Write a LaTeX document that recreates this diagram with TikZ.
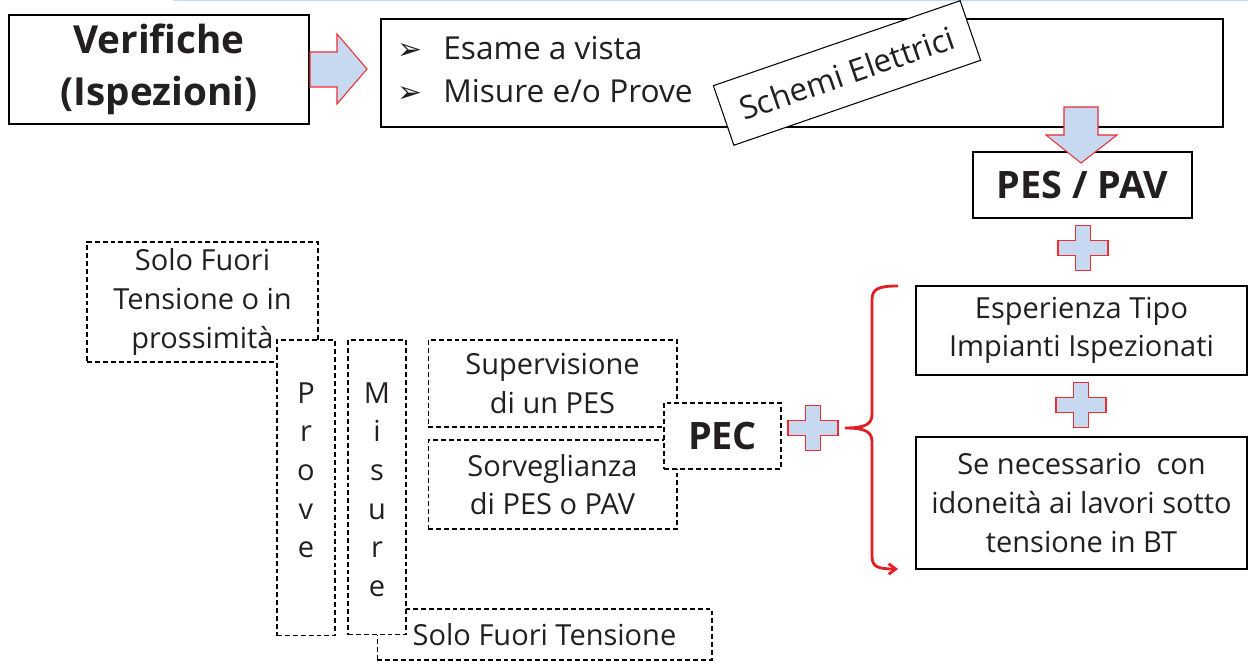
\documentclass[tikz,border=0pt]{standalone}
\usepackage{fontspec}
\setmainfont{Open Sans}
\newfontfamily\symfont{DejaVu Sans}
\usepackage{tikz}
\usetikzlibrary{arrows.meta, positioning}
\definecolor{FillBlue}{RGB}{198,217,240}
\definecolor{EdgeRed}{RGB}{236,45,52}
\definecolor{BraceRed}{RGB}{228,30,38}
\definecolor{TopLine}{RGB}{197,217,241}
\definecolor{TextGray}{RGB}{35,31,32}

\begin{document}
\begin{tikzpicture}[x=0.02cm,y=-0.02cm,
        txt/.style={font=\fontsize{16.5}{22}\selectfont,text=TextGray,align=center},
        toptxt/.style={txt,font=\fontsize{18}{22}\selectfont},
        box/.style={draw,line width=0.8pt,fill=white,txt},
        dbox/.style={draw,line width=0.6pt,dash pattern=on 2.8pt off 1.7pt,fill=white,txt},
        big/.style={font=\fontsize{22}{30}\selectfont\bfseries},
        bold/.style={font=\fontsize{21.5}{24}\selectfont\bfseries},
        blockarr/.style={draw=EdgeRed,fill=FillBlue,line width=0.6pt},
        plussign/.pic={\draw[blockarr] (-7.5,-22.5) -- (7.5,-22.5) -- (7.5,-7.5) -- (25,-7.5)
            -- (25,7.5) -- (7.5,7.5) -- (7.5,22.5) -- (-7.5,22.5) -- (-7.5,7.5) -- (-25,7.5)
            -- (-25,-7.5) -- (-7.5,-7.5) -- cycle;}]
  \useasboundingbox (0,0) rectangle (1248,661);
  \draw[TopLine,line width=1pt] (173,0.5) -- (1248,0.5);

  % top row
  \node[box,big,minimum width=6cm,minimum height=2.18cm] (verif) at (159,69.5) {Verifiche\\(Ispezioni)};
  \node[box,minimum width=16.84cm,minimum height=2.16cm] (lista) at (802,73) {};
  \node[toptxt,anchor=west,inner sep=0pt] (esame) at (397,48) {\makebox[0.92cm][l]{\symfont\fontsize{17}{17}\selectfont ➢}Esame a vista};
  \node[toptxt,anchor=west,inner sep=0pt] (misprove) at (397,91) {\makebox[0.92cm][l]{\symfont\fontsize{17}{17}\selectfont ➢}Misure e/o Prove};
  \node[box,toptxt,rotate=19,line width=0.6pt,inner sep=0pt,minimum width=5.22cm,minimum height=1.26cm] (schemi) at (847,73) {Schemi Elettrici};
  \draw[blockarr] (310,52) -- (337,52) -- (337,34) -- (367,69) -- (337,104) -- (337,87) -- (310,87) -- cycle;

  \node[box,bold,minimum width=4.38cm,minimum height=1.32cm] (pespav) at (1082.5,185) {PES / PAV};
  \draw[blockarr] (1064,107) -- (1098,107) -- (1098,135) -- (1117,135) -- (1081,163) -- (1046,135) -- (1064,135) -- cycle;
  \pic at (1083,248) {plussign};

  % right column
  \node[box,minimum width=6.62cm,minimum height=1.78cm] (esper) at (1081.5,330.5) {Esperienza Tipo\\Impianti Ispezionati};
  \pic at (1081,405) {plussign};
  \node[box,minimum width=6.62cm,minimum height=2.64cm] (senec) at (1081.5,503) {Se necessario\ \ con\\idoneità ai lavori sotto\\tensione in BT};
  \draw[BraceRed,line width=1.6pt,-{Straight Barb[length=4pt,width=6pt]}]
    (898,286) .. controls (878,286) and (872,289) .. (872,300) -- (872,414)
    .. controls (872,424) and (866,428) .. (845,428)
    .. controls (866,428) and (872,432) .. (872,442) -- (872,556)
    .. controls (872,567) and (878,569) .. (898,569);

  % left part
  \node[dbox,minimum width=4.62cm,minimum height=2.4cm] (soloprox) at (202.5,302) {Solo Fuori\\Tensione o in\\prossimità};
  \node[dbox,minimum width=1.16cm,minimum height=5.92cm] (prove) at (306,488) {};
  \node[txt,anchor=north,inner sep=0pt] (provetxt) at (306,382) {P\\r\\o\\v\\e};
  \node[dbox,minimum width=6.7cm,minimum height=1.02cm] (solofuori) at (544.5,634.5) {Solo Fuori Tensione};
  \node[dbox,minimum width=1.16cm,minimum height=5.9cm] (misure) at (377,487.5) {};
  \node[txt,anchor=north,inner sep=0pt] (misuretxt) at (377,382) {M\\i\\s\\u\\r\\e};
  \node[dbox,minimum width=4.98cm,minimum height=1.74cm] (superv) at (552.5,383.5) {Supervisione\\di un PES};
  \node[dbox,minimum width=4.98cm,minimum height=1.78cm] (sorv) at (552.5,484.5) {Sorveglianza\\di PES o PAV};
  \node[dbox,bold,minimum width=2.34cm,minimum height=1.32cm] (pec) at (722.5,436) {PEC};
  \pic at (813,428) {plussign};
\end{tikzpicture}
\end{document}
